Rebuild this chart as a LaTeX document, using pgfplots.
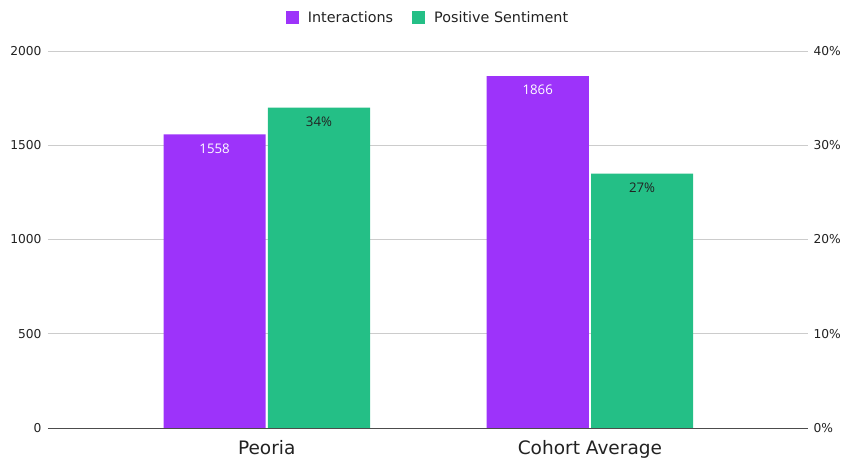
\documentclass[border=0pt]{standalone}
\usepackage{pgfplots}
\pgfplotsset{compat=1.18}
\usepackage{fontspec}
\setmainfont{DejaVu Sans}
\newfontfamily\barfont{Open Sans}
\definecolor{cpurple}{HTML}{9D33FA}
\definecolor{cgreen}{HTML}{24BF86}
\definecolor{ctext}{HTML}{222222}
\pgfplotsset{
  /pgf/number format/assume math mode=true,
  /pgf/number format/1000 sep={},
  sqlegend/.style={legend image code/.code={\fill[#1] (0bp,-6.5bp) rectangle (13bp,6.5bp);}},
  common/.style={
    at={(0,0)}, anchor=south west,
    scale only axis, width=760bp, height=377bp,
    xmin=-0.677, xmax=1.675, ymin=0,
    ybar, bar width=0.316,
    major tick length=0pt,
    yticklabel style={font=\fontsize{12.3}{14}\selectfont, text=ctext},
    clip=false,
  },
}
\begin{document}
\begin{tikzpicture}[x=1bp,y=1bp]
\useasboundingbox (-48,-33) rectangle (798,428);
\begin{axis}[common,
  ymax=2000,
  axis x line*=bottom, axis y line*=left,
  y axis line style={draw=none},
  x axis line style={draw=black!70, line width=0.8pt},
  ytick={0,500,1000,1500,2000},
  yticklabel style={xshift=-3bp},
  ymajorgrids, grid style={black!20, line width=0.6pt},
  xtick={0,1}, xticklabels={Peoria,Cohort Average},
  xticklabel style={font=\fontsize{18.6}{20}\selectfont, text=ctext, yshift=-9bp},
  sqlegend,
  legend style={at={(0.5,1.088)}, anchor=center, draw=none, fill=none,
    legend columns=2, font=\fontsize{14.4}{16}\selectfont, text=ctext,
    /tikz/every even column/.append style={column sep=17bp},
    /tikz/every odd column/.append style={column sep=7bp}},
]
\addplot[fill=cpurple, draw=none, bar shift=-0.1615,
  nodes near coords,
  every node near coord/.append style={font=\barfont\fontsize{13.3}{15}\selectfont, text=white, anchor=center, yshift=-14bp}]
  coordinates {(0,1558) (1,1866)};
\addlegendentry{Interactions}
\addlegendimage{fill=cgreen, draw=none}
\addlegendentry{Positive Sentiment}
\end{axis}
\begin{axis}[common,
  ymax=40,
  axis x line=none, axis y line*=right,
  y axis line style={draw=none},
  ytick={0,10,20,30,40},
  yticklabel style={xshift=2bp},
  yticklabel={\pgfmathprintnumber{\tick}\%},
]
\addplot[fill=cgreen, draw=none, bar shift=0.1615,
  nodes near coords={\pgfmathprintnumber{\pgfplotspointmeta}\%},
  every node near coord/.append style={font=\barfont\fontsize{13.3}{15}\selectfont, text=ctext, anchor=center, yshift=-14bp}]
  coordinates {(0,34) (1,27)};
\end{axis}
\end{tikzpicture}
\end{document}
